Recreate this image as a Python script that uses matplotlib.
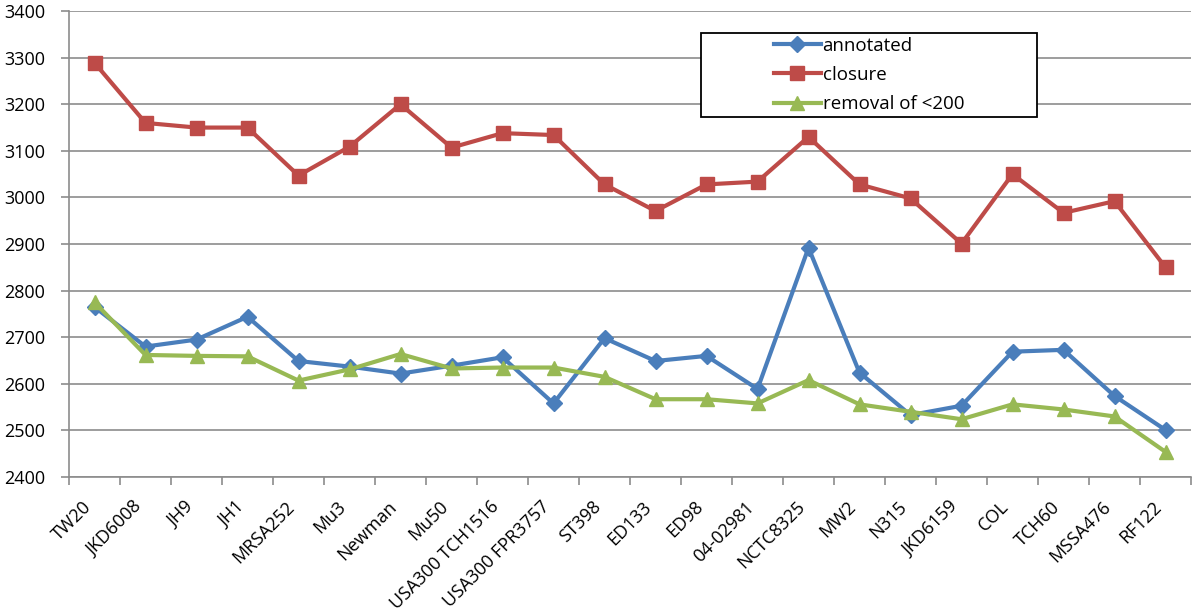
import numpy as np
import matplotlib
matplotlib.use('Agg')
import matplotlib.pyplot as plt
from matplotlib.patches import Rectangle

strains = ['TW20', 'JKD6008', 'JH9', 'JH1', 'MRSA252', 'Mu3', 'Newman', 'Mu50',
           'USA300 TCH1516', 'USA300 FPR3757', 'ST398', 'ED133', 'ED98', '04-02981',
           'NCTC8325', 'MW2', 'N315', 'JKD6159', 'COL', 'TCH60', 'MSSA476', 'RF122']

annotated = [2765, 2680, 2695, 2744, 2649, 2637, 2622, 2639, 2657, 2558, 2698,
             2649, 2660, 2589, 2892, 2624, 2533, 2553, 2669, 2673, 2574, 2501]
closure = [3289, 3160, 3150, 3150, 3047, 3109, 3200, 3107, 3138, 3134, 3028,
           2971, 3028, 3034, 3130, 3028, 2998, 2901, 3050, 2967, 2992, 2850]
removal = [2775, 2662, 2660, 2659, 2607, 2631, 2664, 2633, 2635, 2635, 2615,
           2567, 2567, 2558, 2608, 2556, 2540, 2524, 2556, 2545, 2530, 2454]

plt.rcParams['font.family'] = ['Open Sans', 'DejaVu Sans']

fig = plt.figure(figsize=(12, 6.16), dpi=100)
ax = fig.add_axes([0.0575, 0.2256, 0.935, 0.7564])

x = np.arange(len(strains))
ax.plot(x, annotated, color='#4A7EBB', lw=3, marker='D', ms=8, label='annotated', zorder=3)
ax.plot(x, closure, color='#BE4B48', lw=3, marker='s', ms=10.5, label='closure', zorder=3)
ax.plot(x, removal, color='#98B954', lw=3, marker='^', ms=10.5, label='removal of <200', zorder=3)

ax.set_ylim(2400, 3400)
ax.set_yticks(np.arange(2400, 3401, 100))
ax.set_xlim(-0.5, len(strains) - 0.5)
ax.set_xticks(x)
ax.set_xticklabels(strains, rotation=45, ha='right')
ax.set_xticks(np.arange(-0.5, len(strains)), minor=True)

ax.grid(axis='y', color='#8c8c8c', lw=1.2)
ax.set_axisbelow(True)
for s in ['top', 'right']:
    ax.spines[s].set_visible(False)
for s in ['left', 'bottom']:
    ax.spines[s].set_color('#8c8c8c')
    ax.spines[s].set_linewidth(1.2)

ax.tick_params(axis='y', length=6, color='#8c8c8c', width=1.2, pad=11, labelsize=13)
ax.tick_params(axis='x', which='major', length=0, pad=15, labelsize=13)
ax.tick_params(axis='x', which='minor', length=6, color='#8c8c8c', width=1.2)

# legend box (Excel style: wide box, entries centred)
box = Rectangle((0.563, 0.773), 0.3, 0.18, transform=ax.transAxes, facecolor='white',
                edgecolor='black', lw=1.3, zorder=4)
ax.add_patch(box)
leg = ax.legend(loc='center', bbox_to_anchor=(0.713, 0.863), fontsize=13.5, frameon=False,
                handlelength=2.5, handletextpad=0.1, labelspacing=0.6, borderaxespad=0)
leg.set_zorder(5)

fig.savefig('out.png', dpi=100)
